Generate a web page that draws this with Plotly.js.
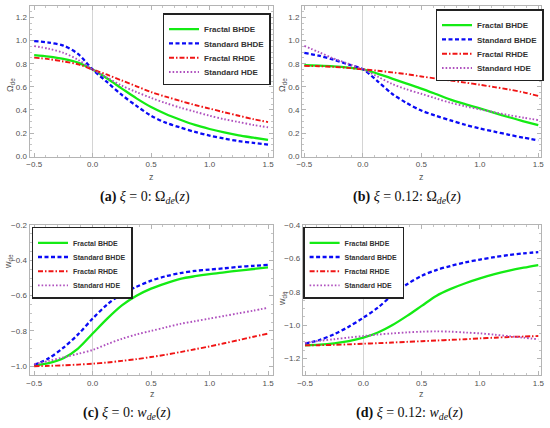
<!DOCTYPE html>
<html>
<head>
<meta charset="utf-8">
<script src="https://cdn.plot.ly/plotly-3.0.1.min.js"></script>
<style>html,body{margin:0;padding:0;background:#fff;}#chart{width:550px;height:428px;}</style>
</head>
<body>
<div id="chart"></div>
<script>
// ---- data ----
const z = [-0.5,-0.375,-0.25,-0.125,0,0.125,0.25,0.375,0.5,0.625,0.75,0.875,1.0,1.125,1.25,1.375,1.5];
const seriesNames = ["Fractal BHDE","Standard BHDE","Fractal RHDE","Standard HDE"];

// (a) xi = 0 : Omega_de
const omegaXi0FractalBHDE  = [0.875,0.862,0.842,0.81,0.75,0.672,0.585,0.5,0.425,0.365,0.315,0.27,0.235,0.205,0.18,0.16,0.14];
const omegaXi0StandardBHDE = [0.996,0.983,0.957,0.885,0.75,0.64,0.53,0.435,0.35,0.29,0.248,0.21,0.178,0.153,0.13,0.115,0.10];
const omegaXi0FractalRHDE  = [0.853,0.84,0.82,0.795,0.75,0.705,0.655,0.605,0.555,0.515,0.478,0.443,0.412,0.38,0.35,0.32,0.295];
const omegaXi0StandardHDE  = [0.953,0.93,0.895,0.835,0.75,0.68,0.61,0.555,0.505,0.46,0.42,0.385,0.35,0.32,0.295,0.27,0.25];

// (b) xi = 0.12 : Omega_de
const omegaXi012FractalBHDE  = [0.787,0.783,0.777,0.767,0.752,0.715,0.672,0.628,0.585,0.538,0.49,0.45,0.413,0.375,0.337,0.302,0.268];
const omegaXi012StandardBHDE = [0.895,0.87,0.835,0.795,0.752,0.65,0.54,0.46,0.395,0.35,0.31,0.272,0.24,0.212,0.185,0.16,0.137];
const omegaXi012FractalRHDE  = [0.782,0.779,0.773,0.764,0.752,0.74,0.725,0.71,0.69,0.672,0.655,0.637,0.618,0.598,0.577,0.552,0.522];
const omegaXi012StandardHDE  = [0.955,0.9,0.845,0.8,0.752,0.69,0.625,0.578,0.54,0.5,0.462,0.432,0.405,0.38,0.355,0.333,0.312];

// (c) xi = 0 : w_de
const wXi0FractalBHDE  = [-0.995,-0.982,-0.955,-0.9,-0.815,-0.73,-0.655,-0.6,-0.56,-0.53,-0.505,-0.49,-0.478,-0.468,-0.458,-0.449,-0.44];
const wXi0StandardBHDE = [-0.993,-0.955,-0.895,-0.82,-0.73,-0.65,-0.59,-0.55,-0.515,-0.49,-0.472,-0.46,-0.452,-0.445,-0.437,-0.431,-0.425];
const wXi0FractalRHDE  = [-1.0,-0.998,-0.995,-0.991,-0.986,-0.979,-0.97,-0.96,-0.948,-0.935,-0.92,-0.904,-0.888,-0.87,-0.852,-0.833,-0.815];
const wXi0StandardHDE  = [-0.988,-0.97,-0.95,-0.93,-0.908,-0.875,-0.845,-0.82,-0.8,-0.78,-0.76,-0.745,-0.73,-0.715,-0.7,-0.685,-0.669];

// (d) xi = 0.12 : w_de
const wXi012FractalBHDE  = [-1.122,-1.118,-1.11,-1.097,-1.076,-1.045,-1.0,-0.945,-0.885,-0.825,-0.783,-0.749,-0.72,-0.695,-0.674,-0.656,-0.64];
const wXi012StandardBHDE = [-1.112,-1.09,-1.055,-1.01,-0.956,-0.895,-0.82,-0.755,-0.705,-0.67,-0.645,-0.624,-0.607,-0.592,-0.58,-0.57,-0.562];
const wXi012FractalRHDE  = [-1.122,-1.121,-1.119,-1.116,-1.112,-1.109,-1.105,-1.101,-1.097,-1.093,-1.089,-1.085,-1.08,-1.076,-1.072,-1.069,-1.066];
const wXi012StandardHDE  = [-1.107,-1.095,-1.085,-1.075,-1.066,-1.057,-1.05,-1.044,-1.04,-1.038,-1.04,-1.045,-1.05,-1.058,-1.067,-1.076,-1.086];

const xTicks = [-0.5,0,0.5,1.0,1.5];
const yTicksOmega = [0,0.2,0.4,0.6,0.8,1.0,1.2];
const yTicksWc = [-1.0,-0.8,-0.6,-0.4,-0.2];
const yTicksWd = [-1.2,-1.0,-0.8,-0.6,-0.4];

// ---- styling ----
const styles = [
  {color:'rgb(20,235,20)', width:2.3, dash:'solid'},
  {color:'rgb(10,10,245)', width:2.3, dash:'4px,2.5px'},
  {color:'rgb(240,20,20)', width:1.9, dash:'5px,2px,1.5px,2px'},
  {color:'rgb(175,80,190)', width:1.9, dash:'1.6px,2px'}
];

const panels = [
  {data:[omegaXi0FractalBHDE,omegaXi0StandardBHDE,omegaXi0FractalRHDE,omegaXi0StandardHDE], legend:'legend'},
  {data:[omegaXi012FractalBHDE,omegaXi012StandardBHDE,omegaXi012FractalRHDE,omegaXi012StandardHDE], legend:'legend2'},
  {data:[wXi0FractalBHDE,wXi0StandardBHDE,wXi0FractalRHDE,wXi0StandardHDE], legend:'legend3'},
  {data:[wXi012FractalBHDE,wXi012StandardBHDE,wXi012FractalRHDE,wXi012StandardHDE], legend:'legend4'}
];

const traces = [];
panels.forEach((p, i) => {
  const ax = i === 0 ? '' : String(i+1);
  p.data.forEach((ys, k) => {
    traces.push({
      x: z, y: ys, type:'scatter', mode:'lines',
      name: seriesNames[k],
      xaxis: 'x'+ax, yaxis: 'y'+ax,
      legend: p.legend,
      line: {color:styles[k].color, width:styles[k].width, dash:styles[k].dash, shape:'spline', smoothing:0.9}
    });
  });
});

const W = 550, H = 428;
const px = v => v / W;
const py = v => 1 - v / H;

const tickFont = {family:'Liberation Sans, Arial, sans-serif', size:8, color:'#505050'};
function xAxis(l, r, range, anchor){
  return {domain:[px(l), px(r)], range:range, anchor:anchor, tickvals:xTicks, tickformat:'.1f',
    showline:true, mirror:'allticks', linecolor:'#b4b4b4', linewidth:1,
    ticks:'inside', ticklen:4, tickcolor:'#b4b4b4', tickfont:tickFont,
    minor:{dtick:0.1, ticks:'inside', ticklen:2, tickcolor:'#c4c4c4'},
    showgrid:false, zeroline:true, zerolinecolor:'#d4d4d4', zerolinewidth:1};
}
function yAxis(t, b, range, vals, anchor){
  return {domain:[py(b), py(t)], range:range, anchor:anchor, tickvals:vals, tickformat:'.1f',
    showline:true, mirror:'allticks', linecolor:'#b4b4b4', linewidth:1,
    ticks:'inside', ticklen:4, tickcolor:'#b4b4b4', tickfont:tickFont,
    minor:{dtick:0.05, ticks:'inside', ticklen:2, tickcolor:'#c4c4c4'},
    showgrid:false, zeroline:false};
}

function legendAt(x, y, size){
  return {x:px(x), y:py(y), xanchor:'left', yanchor:'top', xref:'paper', yref:'paper',
    bgcolor:'#fff', bordercolor:'#222', borderwidth:1.3,
    font:{family:'Liberation Sans, Arial, sans-serif', size:size, color:'#333', weight:'bold'},
    tracegroupgap:0, itemwidth:30};
}

const labFont = {family:'Liberation Sans, Arial, sans-serif', size:9, color:'#555'};
const capFont = {family:'Liberation Serif, DejaVu Serif, serif', size:14, color:'#111'};
function ann(text, x, y, font, angle){
  return {text:text, x:px(x), y:py(y), xref:'paper', yref:'paper', showarrow:false,
    xanchor:'center', yanchor:'middle', font:font, textangle:angle||0};
}

const layout = {
  width:W, height:H, margin:{l:0,r:0,t:0,b:0},
  paper_bgcolor:'#fff', plot_bgcolor:'#fff', showlegend:true,
  xaxis:  xAxis(29.5, 272.7, [-0.54,1.54], 'y'),
  yaxis:  yAxis(6, 156.5, [-0.003,1.3], yTicksOmega, 'x'),
  xaxis2: xAxis(302, 540.6, [-0.52,1.52], 'y2'),
  yaxis2: yAxis(6, 156.5, [-0.003,1.3], yTicksOmega, 'x2'),
  xaxis3: xAxis(29.5, 272.7, [-0.54,1.54], 'y3'),
  yaxis3: yAxis(225, 375, [-1.05,-0.1995], yTicksWc, 'x3'),
  xaxis4: xAxis(302.7, 540.6, [-0.52,1.52], 'y4'),
  yaxis4: yAxis(225, 375, [-1.3,-0.3995], yTicksWd, 'x4'),
  legend:  legendAt(162.7, 13.3, 8),
  legend2: legendAt(435.7, 9.3, 8),
  legend3: legendAt(31.7, 227, 7),
  legend4: legendAt(303.3, 227, 7),
  annotations: [
    ann('Ω<sub>de</sub>', 10, 85, labFont, -90),
    ann('Ω<sub>de</sub>', 282, 85, labFont, -90),
    ann('w<sub>de</sub>', 8, 262, labFont, -90),
    ann('w<sub>de</sub>', 282, 299, labFont, -90),
    ann('z', 151, 177, labFont),
    ann('z', 421, 177, labFont),
    ann('z', 152, 394, labFont),
    ann('z', 422, 394, labFont),
    ann('<b>(a)</b> <i>ξ</i> = 0: Ω<sub><i>de</i></sub>(<i>z</i>)', 145, 197, capFont),
    ann('<b>(b)</b> <i>ξ</i> = 0.12: Ω<sub><i>de</i></sub>(<i>z</i>)', 407, 197, capFont),
    ann('<b>(c)</b> <i>ξ</i> = 0: <i>w<sub>de</sub></i>(<i>z</i>)', 127, 413, capFont),
    ann('<b>(d)</b> <i>ξ</i> = 0.12: <i>w<sub>de</sub></i>(<i>z</i>)', 409, 413, capFont)
  ]
};

// Compact the spacing of Plotly's own legend entries to match the reference
const legendSpacing = {legend:14.3, legend2:14.3, legend3:14.2, legend4:14.2};
function compactLegends(gd){
  Object.keys(legendSpacing).forEach(id => {
    const g = gd.querySelector('g.' + id);
    if(!g) return;
    const items = Array.from(g.querySelectorAll('g.traces'));
    if(items.length < 2) return;
    const parsed = items.map(el => {
      const m = /translate\(\s*([-\d.e]+)[ ,]+([-\d.e]+)\s*\)/.exec(el.getAttribute('transform') || '');
      return {el:el, x: m ? parseFloat(m[1]) : 0, y: m ? parseFloat(m[2]) : 0};
    }).sort((a,b) => a.y - b.y);
    const s = legendSpacing[id];
    const y0 = parsed[0].y;
    const oldLast = parsed[parsed.length-1].y;
    parsed.forEach((p, i) => p.el.setAttribute('transform', 'translate(' + p.x + ',' + (y0 + i*s) + ')'));
    const shrink = (oldLast - y0) - s*(parsed.length-1) + 3;
    g.querySelectorAll('rect.bg').forEach(r => {
      const h = parseFloat(r.getAttribute('height'));
      if(!isNaN(h)) r.setAttribute('height', h - shrink);
    });
  });
}

Plotly.newPlot('chart', traces, layout, {staticPlot:true, displayModeBar:false}).then(compactLegends);
</script>
</body>
</html>
